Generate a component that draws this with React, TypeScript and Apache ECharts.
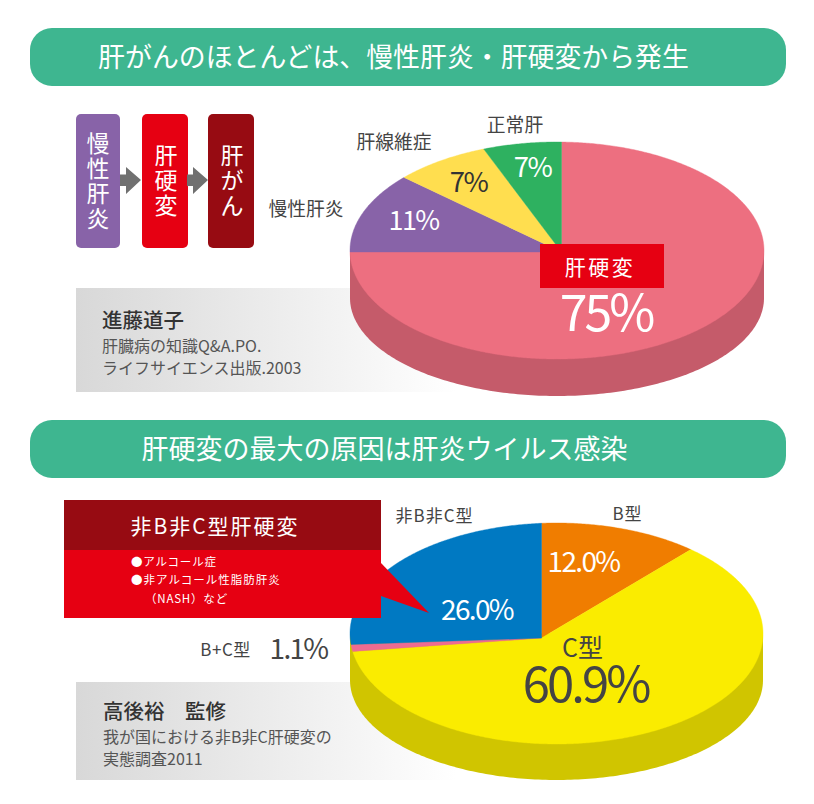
import React, { useEffect, useRef } from "react";
import * as echarts from "echarts";

const FONT = '"Noto Sans CJK JP","Noto Sans",sans-serif';

const titleTop = "肝がんのほとんどは、慢性肝炎・肝硬変から発生";
const titleBottom = "肝硬変の最大の原因は肝炎ウイルス感染";

// clockwise from 12 o'clock; shares as drawn in the picture, labels as printed in it
const causeCategories = ["肝硬変", "慢性肝炎", "肝線維症", "正常肝"];
const causeValues = [75, 11.7, 7.3, 6];
const causeLabels = ["75%", "11%", "7%", "7%"];
const causeColors = ["#ed6f80", "#8863a8", "#ffde4f", "#2eb160"];

const virusCategories = ["B型", "C型", "B+C型", "非B非C型"];
const virusValues = [11.7, 61.2, 1.1, 26.0];
const virusLabels = ["12.0%", "60.9%", "1.1%", "26.0%"];
const virusColors = ["#f07d00", "#faec00", "#ee6c91", "#0079c2"];

const stageLabels = ["慢性肝炎", "肝硬変", "肝がん"];

type Geo = { cx: number; cy: number; rx: number; ry: number; ax: number; ay: number; cy2: number; ry2: number };
const geoTop: Geo = { cx: 557, cy: 250.5, rx: 207, ry: 108.5, ax: 561.5, ay: 252, cy2: 298, ry2: 98 };
const geoBottom: Geo = { cx: 556.5, cy: 633.5, rx: 206.5, ry: 110.5, ax: 541.5, ay: 638, cy2: 680, ry2: 100 };

function rimPoint(g: Geo, deg: number): number[] {
  const a = (deg * Math.PI) / 180;
  const dx = Math.sin(a) * g.rx;
  const dy = -Math.cos(a) * g.ry;
  const ox = (g.ax - g.cx) / g.rx, oy = (g.ay - g.cy) / g.ry;
  const ux = dx / g.rx, uy = dy / g.ry;
  const A = ux * ux + uy * uy;
  const B = 2 * (ox * ux + oy * uy);
  const C = ox * ox + oy * oy - 1;
  const t = (-B + Math.sqrt(B * B - 4 * A * C)) / (2 * A);
  return [g.ax + t * dx, g.ay + t * dy];
}

function faceSeries(values: number[], colors: string[], g: Geo) {
  return {
    type: "custom",
    coordinateSystem: "none",
    z: 3,
    silent: true,
    data: values.map((v) => [v]),
    renderItem: (params: any, api: any) => {
      const total = values.reduce((s, v) => s + v, 0);
      const before = values.slice(0, params.dataIndex).reduce((s, v) => s + v, 0);
      const start = (before / total) * 360;
      const end = ((before + api.value(0)) / total) * 360;
      const points: number[][] = [[g.ax, g.ay]];
      const n = Math.max(2, Math.ceil((end - start) * 2));
      for (let i = 0; i <= n; i++) points.push(rimPoint(g, start + ((end - start) * i) / n));
      const fill = colors[params.dataIndex];
      return { type: "polygon", shape: { points }, style: { fill, stroke: fill, lineWidth: 0.4 } };
    },
  };
}

function wallSeries(color: string, g: Geo) {
  return {
    type: "custom",
    coordinateSystem: "none",
    z: 2,
    silent: true,
    data: [[1]],
    renderItem: () => {
      const points: number[][] = [[g.cx - g.rx, g.cy]];
      for (let d = 180; d >= 0; d -= 1) {
        const a = (d * Math.PI) / 180;
        points.push([g.cx + Math.cos(a) * g.rx, g.cy2 + Math.sin(a) * g.ry2]);
      }
      points.push([g.cx + g.rx, g.cy]);
      return { type: "polygon", shape: { points }, style: { fill: color } };
    },
  };
}

const SPACING: Record<string, number> = {
  "非B非C型肝硬変": 2,
  "●アルコール症": 0.8,
  "●非アルコール性脂肪肝炎": 1,
  "（NASH）など": 0.8,
  "非B非C型": 1,
  "B+C型": 0.5,
  "B型": 1,
  "肝硬変": 2.5,
};

function T(text: string, x: number, y: number, fontSize: number, fill: string, align = "center", fontWeight: any = 400, z = 10, extra: any = {}) {
  return {
    type: "text",
    x,
    y,
    z,
    silent: true,
    style: {
      text,
      fill,
      fontSize,
      fontFamily: FONT,
      fontWeight,
      align,
      verticalAlign: "middle",
      textAlign: align,
      textVerticalAlign: "middle",
      ...extra,
    },
  };
}

function box(x: number, y: number, width: number, height: number, fill: any, r: number | number[] = 0, z = 10) {
  return { type: "rect", z, silent: true, shape: { x, y, width, height, r }, style: { fill } };
}

function arrow(x: number) {
  return {
    type: "polygon",
    z: 10,
    silent: true,
    shape: {
      points: [
        [x, 174.5],
        [x + 6, 174.5],
        [x + 6, 167],
        [x + 21, 180],
        [x + 6, 194],
        [x + 6, 186],
        [x, 186],
      ],
    },
    style: { fill: "#707070" },
  };
}

const fade = {
  type: "linear",
  x: 0,
  y: 0,
  x2: 1,
  y2: 0,
  colorStops: [
    { offset: 0, color: "#d8d8d8" },
    { offset: 1, color: "#ffffff" },
  ],
};

const vertical = (s: string) => s.split("").join("\n");
const DARK = "#444444";

export default function App() {
  const ref = useRef<HTMLDivElement>(null);
  useEffect(() => {
    const chart = echarts.init(ref.current!, undefined, { renderer: "svg" });
    const verticalStage = (i: number, cx: number, y: number) =>
      T(vertical(stageLabels[i]), cx, y, 23, "#ffffff", "center", 400, 10, { lineHeight: 25 });
    const elements: any[] = [
      box(30, 28, 756, 58, "#3eb690", 22, 1),
      box(30, 420, 756, 58, "#3eb690", 22, 1),
      T(titleTop, 393.5, 55, 26.9, "#ffffff"),
      T(titleBottom, 384.5, 447, 27, "#ffffff"),

      box(76, 114, 44, 134, "#8863a8", 5),
      box(142, 114, 46, 134, "#e60012", 5),
      box(208, 114, 46, 134, "#970b12", 5),
      arrow(120),
      arrow(187),
      verticalStage(0, 98, 179),
      verticalStage(1, 166, 179),
      verticalStage(2, 232, 179),

      box(76, 288, 380, 104, fade, 0, 1),
      T("進藤道子", 102, 319, 20.5, "#333333", "left", 500),
      T("肝臓病の知識Q&A.PO.", 102, 345, 16, "#555555", "left"),
      T("ライフサイエンス出版.2003", 102, 367, 16, "#555555", "left"),

      T(causeCategories[3], 515, 123, 18.8, DARK),
      T(causeCategories[2], 394, 140, 18.8, DARK),
      T(causeCategories[1], 306, 207, 18.8, DARK),
      T(causeLabels[3], 532.5, 165, 27.5, "#ffffff"),
      T(causeLabels[2], 468.5, 180, 27.5, "#333333"),
      T(causeLabels[1], 413.5, 218.5, 27, "#ffffff"),
      box(540, 244, 124, 44, "#e60012"),
      T(causeCategories[0], 600, 266, 21, "#ffffff"),
      T(causeLabels[0], 606, 309, 50, "#ffffff"),

      box(76, 682, 380, 98, fade, 0, 1),
      T("高後裕　監修", 103, 710, 20.5, "#333333", "left", 500),
      T("我が国における非B非C肝硬変の", 103, 736, 16, "#555555", "left"),
      T("実態調査2011", 103, 758, 16, "#555555", "left"),

      T(virusCategories[3], 434.5, 514, 17, DARK),
      T(virusCategories[0], 627.5, 512, 17, DARK),
      T(virusCategories[2], 225.5, 648, 17, DARK),
      T(virusLabels[2], 298.5, 647, 28, DARK),
      T(virusLabels[0], 583.5, 560, 28, "#ffffff"),
      T(virusLabels[3], 477, 607.5, 28, "#ffffff"),
      T(virusCategories[1], 582.5, 646, 25, DARK),
      T(virusLabels[1], 585.5, 680, 49, DARK),

      box(64, 500, 317, 50, "#970b12"),
      box(64, 550, 317, 68, "#e60012"),
      { type: "polygon", z: 10, silent: true, shape: { points: [[381, 563], [429, 613], [381, 596]] }, style: { fill: "#e60012" } },
      T("非B非C型肝硬変", 215, 525, 21, "#ffffff"),
      T("●アルコール症", 131, 561, 11.5, "#ffffff", "left"),
      T("●非アルコール性脂肪肝炎", 131, 579, 11.5, "#ffffff", "left"),
      T("（NASH）など", 145, 598, 11.5, "#ffffff", "left"),
    ];
    chart.setOption({
      animation: false,
      backgroundColor: "#ffffff",
      graphic: { elements },
      series: [
        wallSeries("#c55b6a", geoTop),
        faceSeries(causeValues, causeColors, geoTop),
        wallSeries("#d0c500", geoBottom),
        faceSeries(virusValues, virusColors, geoBottom),
      ],
    });
    const applySpacing = () => {
      ref.current?.querySelectorAll("text").forEach((el) => {
        const s = SPACING[el.textContent || ""];
        if (s !== undefined) (el as any).style.letterSpacing = `${s}px`;
        else if (/^[\d.]+%$/.test(el.textContent || "")) (el as any).style.letterSpacing = "-0.06em";
      });
    };
    applySpacing();
    const id = requestAnimationFrame(applySpacing);
    return () => {
      cancelAnimationFrame(id);
      chart.dispose();
    };
  }, []);
  return <div ref={ref} style={{ position: "absolute", left: 0, top: 0, width: 814, height: 804 }} />;
}
